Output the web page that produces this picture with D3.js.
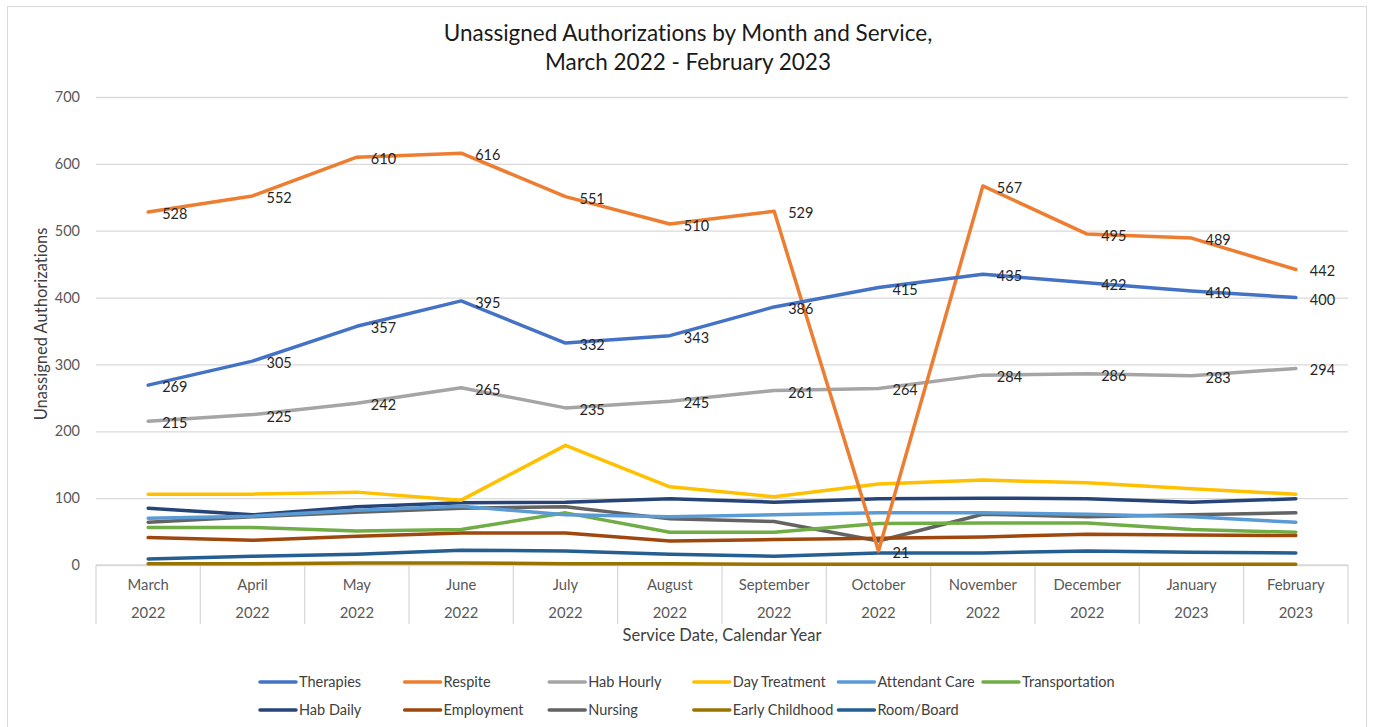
<!DOCTYPE html>
<html>
<head>
<meta charset="utf-8">
<script src="https://cdn.jsdelivr.net/npm/d3@7"></script>
<style>
  body { margin: 0; background: #fff; }
  svg { font-family: Lato, "Open Sans", sans-serif; font-variant-ligatures: none; }
</style>
</head>
<body>
<svg id="chart" width="1373" height="727"></svg>
<script>
// categories
let months = ['March','April','May','June','July','August','September','October','November','December','January','February']
let years = ['2022','2022','2022','2022','2022','2022','2022','2022','2022','2022','2023','2023']

// series values
let therapies      = [269,305,357,395,332,343,386,415,435,422,410,400]
let respite        = [528,552,610,616,551,510,529,21,567,495,489,442]
let habHourly      = [215,225,242,265,235,245,261,264,284,286,283,294]
let dayTreatment   = [106,106,109,97,179,117,102,121,127,123,114,106]
let attendantCare  = [70,73,82,88,75,72,75,78,78,76,72,64]
let transportation = [56,56,51,53,78,49,49,62,63,63,53,49]
let habDaily       = [85,75,87,93,94,99,94,99,100,99,94,99]
let employment     = [41,37,43,48,48,36,38,40,42,46,45,44]
let nursing        = [64,72,79,85,87,69,65,36,76,72,75,78]
let earlyChildhood = [2,2,3,3,2,2,1,1,1,1,1,1]
let roomBoard      = [9,13,16,22,21,16,13,18,18,21,19,18]

let yTicks = [0,100,200,300,400,500,600,700]

let series = [
  {name:'Therapies', values:therapies, color:'#4472C4', labels:true},
  {name:'Respite', values:respite, color:'#ED7D31', labels:true},
  {name:'Hab Hourly', values:habHourly, color:'#A5A5A5', labels:true},
  {name:'Day Treatment', values:dayTreatment, color:'#FFC000'},
  {name:'Attendant Care', values:attendantCare, color:'#5B9BD5'},
  {name:'Transportation', values:transportation, color:'#70AD47'},
  {name:'Hab Daily', values:habDaily, color:'#264478'},
  {name:'Employment', values:employment, color:'#9E480E'},
  {name:'Nursing', values:nursing, color:'#636363'},
  {name:'Early Childhood', values:earlyChildhood, color:'#997300'},
  {name:'Room/Board', values:roomBoard, color:'#255E91'}
]

let svg = d3.select('#chart')
let plotLeft = 96, plotRight = 1348, plotTop = 97, plotBottom = 565

// chart border
svg.append('rect').attr('x',7.5).attr('y',6.5).attr('width',1359).attr('height',730)
  .attr('fill','none').attr('stroke','#d9d9d9')

// title
svg.append('text').attr('x',688).attr('y',41).attr('text-anchor','middle')
  .attr('font-size',22.5).attr('fill','#1a1a1a').text('Unassigned Authorizations by Month and Service,')
svg.append('text').attr('x',688).attr('y',70).attr('text-anchor','middle')
  .attr('font-size',22.5).attr('fill','#1a1a1a').text('March 2022 - February 2023')

let xScale = d3.scaleBand().domain(d3.range(months.length)).range([plotLeft,plotRight])
let yScale = d3.scaleLinear().domain([0,700]).range([plotBottom,plotTop])
let cx = i => xScale(i) + xScale.bandwidth()/2

// gridlines + y axis
let yAxis = d3.axisLeft(yScale).tickValues(yTicks).tickSize(-(plotRight-plotLeft)).tickPadding(16)
let gy = svg.append('g').attr('transform','translate('+plotLeft+',0)').call(yAxis)
gy.select('.domain').remove()
gy.selectAll('.tick line').attr('stroke','#d9d9d9').attr('stroke-width',1.3)
gy.selectAll('.tick text').attr('fill','#595959').attr('font-size',14.5).attr('font-family','Lato, sans-serif')

// category table
let xg = svg.append('g')
xg.append('line').attr('x1',plotLeft).attr('x2',plotRight).attr('y1',plotBottom).attr('y2',plotBottom)
  .attr('stroke','#d9d9d9').attr('stroke-width',1.3)
xg.selectAll('.sep').data(d3.range(months.length+1)).enter().append('line')
  .attr('x1',i => i < months.length ? xScale(i) : plotRight)
  .attr('x2',i => i < months.length ? xScale(i) : plotRight)
  .attr('y1',plotBottom).attr('y2',624).attr('stroke','#d9d9d9').attr('stroke-width',1.3)
xg.selectAll('.month').data(months).enter().append('text')
  .attr('x',(d,i) => cx(i)).attr('y',590).attr('text-anchor','middle')
  .attr('font-size',14.8).attr('fill','#595959').text(d => d)
xg.selectAll('.year').data(years).enter().append('text')
  .attr('x',(d,i) => cx(i)).attr('y',618).attr('text-anchor','middle')
  .attr('font-size',14.8).attr('fill','#595959').text(d => d)

// axis titles
svg.append('text').attr('x',722).attr('y',641).attr('text-anchor','middle')
  .attr('font-size',16.5).attr('fill','#404040').text('Service Date, Calendar Year')
svg.append('text').attr('transform','translate(47,324) rotate(-90)').attr('text-anchor','middle')
  .attr('font-size',16.5).attr('fill','#404040').text('Unassigned Authorizations')

// lines, drawn bottom-up so the top series sit over the rest
let line = d3.line().x((d,i) => cx(i)).y(d => yScale(d))
svg.append('g').selectAll('path').data(series.slice().reverse()).enter().append('path')
  .attr('d',s => line(s.values)).attr('fill','none').attr('stroke',s => s.color)
  .attr('stroke-width',3.5).attr('stroke-linejoin','round').attr('stroke-linecap','round')

// data labels
series.filter(s => s.labels).forEach(s => {
  svg.append('g').selectAll('text').data(s.values).enter().append('text')
    .attr('x',(d,i) => cx(i) + 14).attr('y',d => yScale(d) + 7)
    .attr('font-size',14.5).attr('fill','#262626').text(d => d)
})

// legend
let legend = svg.append('g')
series.forEach((s,i) => {
  let col = i < 6 ? i : i - 6
  let row = i < 6 ? 0 : 1
  let x = 260 + col*144.6
  let y = 682 + row*28
  legend.append('line').attr('x1',x).attr('x2',x+36).attr('y1',y).attr('y2',y)
    .attr('stroke',s.color).attr('stroke-width',3.5).attr('stroke-linecap','round')
  legend.append('text').attr('x',x+39).attr('y',y+5).attr('font-size',14.5)
    .attr('fill','#404040').text(s.name)
})
</script>
</body>
</html>
